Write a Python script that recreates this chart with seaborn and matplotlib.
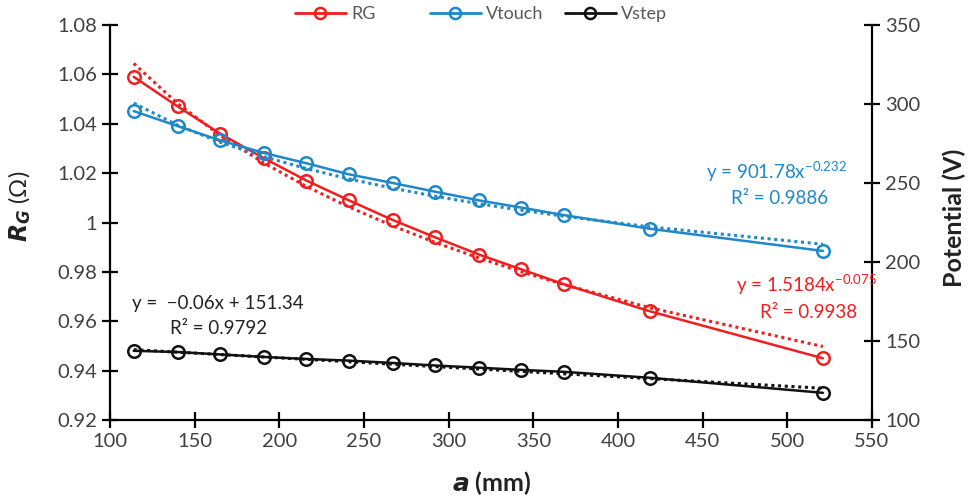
import numpy as np
import pandas as pd
import matplotlib
matplotlib.use("Agg")
import matplotlib.pyplot as plt
from matplotlib.lines import Line2D
import seaborn as sns

sns.set_style("white")
plt.rcParams['font.family'] = ['Lato', 'DejaVu Sans']
plt.rcParams['mathtext.fontset'] = 'custom'
plt.rcParams['mathtext.rm'] = 'Lato'
plt.rcParams['mathtext.it'] = 'Lato:italic'
plt.rcParams['mathtext.bf'] = 'Lato:bold'

# ---- data ----
a_mm = [114, 140, 165, 191, 216, 241, 267, 292, 318, 343, 368, 419, 521]
rg = [1.059, 1.047, 1.036, 1.026, 1.017, 1.009, 1.001, 0.994, 0.987, 0.981, 0.975, 0.964, 0.945]
vtouch = [295.5, 286.0, 277.0, 269.0, 262.5, 255.5, 250.0, 244.5, 239.0, 234.4, 229.7, 221.0, 207.0]
vstep = [143.8, 143.0, 141.5, 139.9, 138.6, 137.6, 136.1, 134.5, 133.1, 131.7, 130.5, 126.7, 117.2]

# trendline coefficients shown on the chart
rg_fit = (1.5184, -0.075)
vtouch_fit = (901.78, -0.232)
vstep_fit = (-0.06, 151.34)

series_names = ["RG", "Vtouch", "Vstep"]
c_red = "#F01E1E"
c_blue = "#1F88C8"
c_black = "#111111"

x = np.array(a_mm, dtype=float)
rg_trend = rg_fit[0] * x ** rg_fit[1]
vt_trend = vtouch_fit[0] * x ** vtouch_fit[1]
vs_trend = vstep_fit[0] * x + vstep_fit[1]

df = pd.DataFrame({"a": a_mm, "RG": rg, "Vtouch": vtouch, "Vstep": vstep,
                   "RGt": rg_trend, "Vtt": vt_trend, "Vst": vs_trend})

fig = plt.figure(figsize=(9.7, 4.96), dpi=100)
ax = fig.add_axes([110/970, 1-420/496, (872-110)/970, (420-25)/496])
ax2 = ax.twinx()

mk = dict(marker='o', markersize=9, markerfacecolor='none', markeredgewidth=1.8)

sns.lineplot(data=df, x="a", y="RGt", ax=ax, color=c_red, linestyle=(0, (1, 1.2)), linewidth=2.2, legend=False)
sns.lineplot(data=df, x="a", y="RG", ax=ax, color=c_red, linewidth=1.8, markeredgecolor=c_red, legend=False, **mk)
sns.lineplot(data=df, x="a", y="Vtt", ax=ax2, color=c_blue, linestyle=(0, (1, 1.2)), linewidth=2.2, legend=False)
sns.lineplot(data=df, x="a", y="Vtouch", ax=ax2, color=c_blue, linewidth=1.8, markeredgecolor=c_blue, legend=False, **mk)
sns.lineplot(data=df, x="a", y="Vst", ax=ax2, color=c_black, linestyle=(0, (1, 1.2)), linewidth=2.2, legend=False)
sns.lineplot(data=df, x="a", y="Vstep", ax=ax2, color=c_black, linewidth=1.8, markeredgecolor=c_black, legend=False, **mk)

ax.set_xlim(100, 550)
ax.set_ylim(0.92, 1.08)
ax2.set_ylim(100, 350)
ax.set_xticks(np.arange(100, 551, 50))
yt = np.arange(0.92, 1.0801, 0.02)
ax.set_yticks(yt)
ax.set_yticklabels([("%.2f" % v).rstrip('0').rstrip('.') for v in yt])
ax2.set_yticks(np.arange(100, 351, 50))

for a_ in (ax, ax2):
    for s in a_.spines.values():
        s.set_visible(False)
    a_.grid(False)
ax.spines['left'].set_visible(True)
ax.spines['bottom'].set_visible(True)
ax2.spines['right'].set_visible(True)
for s in (ax.spines['left'], ax.spines['bottom'], ax2.spines['right']):
    s.set_color('black')
    s.set_linewidth(1.6)

tick_col = "#404040"
ax.tick_params(axis='both', direction='inout', length=11, width=1.6, color='black',
               labelsize=14.5, labelcolor=tick_col, left=True, bottom=True, pad=4)
ax2.tick_params(axis='y', direction='inout', length=11, width=1.6, color='black',
                labelsize=14.5, labelcolor=tick_col, right=True, pad=4)

ax.set_xlabel("")
fig.text(492 / 970, 1 - 483 / 496, r"$\mathbfit{a}$ (mm)", fontsize=18, fontweight='bold',
         ha='center', va='center', color='#222222')
ax.set_ylabel(r"$\mathbfit{R}_{\mathbfit{G}}$ (Ω)", fontsize=17, color='#222222')
ax.yaxis.set_label_coords((33 - 110) / 762, (420 - 206) / 395)
ax2.set_ylabel("Potential (V)", fontsize=18, fontweight='bold', color='#222222')
ax2.yaxis.set_label_coords((943 - 110) / 762, (420 - 218) / 395)


def fig_xy(px, py):
    return px / 970, 1 - py / 496


fs = 13.5
fig.text(*fig_xy(847, 172), r"y = 901.78x$^{\mathregular{-0.232}}$", color=c_blue, fontsize=fs,
         ha='right', va='center')
fig.text(*fig_xy(828, 198), "R² = 0.9886", color=c_blue, fontsize=fs, ha='right', va='center')
fig.text(*fig_xy(877, 285), r"y = 1.5184x$^{\mathregular{-0.075}}$", color=c_red, fontsize=fs,
         ha='right', va='center')
fig.text(*fig_xy(857, 312), "R² = 0.9938", color=c_red, fontsize=fs, ha='right', va='center')
fig.text(*fig_xy(132, 303), "y =  \u22120.06x + 151.34", color="#222222", fontsize=fs, ha='left', va='center')
fig.text(*fig_xy(170, 328), "R² = 0.9792", color="#222222", fontsize=fs, ha='left', va='center')

# legend: three evenly spaced entries (as in the original)
for name, c, px in zip(series_names, (c_red, c_blue, c_black), (295, 430, 565)):
    h = Line2D([], [], color=c, linewidth=2.0, marker='o', markersize=8,
               markerfacecolor='none', markeredgewidth=1.8, markeredgecolor=c)
    leg = fig.legend([h], [name], loc='center left', bbox_to_anchor=fig_xy(px, 14),
                     frameon=False, fontsize=13, handlelength=2.8, handletextpad=0.3,
                     borderpad=0, borderaxespad=0)
    for t in leg.get_texts():
        t.set_color('#595959')

fig.savefig("out.png", dpi=100)
